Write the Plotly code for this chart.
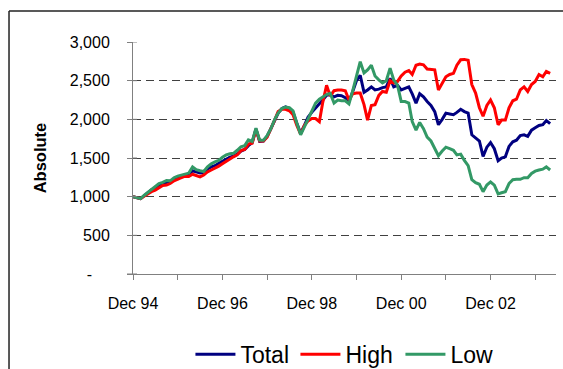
import pandas as pd
import plotly.graph_objects as go

# Monthly index levels, base Dec 1994 = 1,000
months = pd.date_range("1994-12-01", periods=113, freq="MS")

total = [
    1000, 985, 975, 1010, 1050, 1090, 1110, 1145, 1165, 1185, 1195, 1220,
    1245, 1260, 1270, 1280, 1335, 1320, 1305, 1310, 1360, 1385, 1400, 1430,
    1455, 1490, 1510, 1525, 1550, 1590, 1610, 1660, 1700, 1875, 1715, 1720,
    1780, 1880, 1990, 2080, 2140, 2160, 2140, 2090, 1950, 1820, 1920, 2030,
    2090, 2140, 2200, 2250, 2310, 2320, 2290, 2310, 2305, 2280, 2230, 2360,
    2500, 2570, 2350, 2380, 2420, 2380, 2390, 2410, 2420, 2530, 2420, 2440,
    2380, 2400, 2420, 2330, 2210, 2330, 2290, 2230, 2180, 2100, 1930, 2000,
    2080, 2070, 2060, 2090, 2130, 2100, 2080, 1800, 1760, 1720, 1520, 1640,
    1700, 1620, 1465, 1500, 1515, 1650, 1710, 1730, 1790, 1800, 1780, 1860,
    1890, 1920, 1930, 1985, 1945,
]

high = [
    1000, 985, 975, 1005, 1040, 1065, 1085, 1110, 1145, 1150, 1170, 1205,
    1230, 1245, 1265, 1260, 1290, 1270, 1255, 1280, 1320, 1345, 1365, 1395,
    1425, 1460, 1490, 1515, 1540, 1595, 1610, 1680, 1690, 1865, 1720, 1720,
    1770, 1870, 1990, 2100, 2130, 2130, 2110, 2060, 1920, 1810, 1920, 1980,
    2010, 2010, 1970, 2220, 2440, 2300, 2370, 2380, 2380, 2370, 2250, 2330,
    2340, 2340, 2190, 1990, 2180, 2190, 2310, 2360, 2350, 2500, 2470, 2490,
    2560, 2610, 2630, 2580, 2700, 2715, 2705, 2650, 2645, 2640, 2380, 2460,
    2550, 2580, 2595, 2700, 2770, 2775, 2765, 2450, 2340, 2150, 2040, 2180,
    2250, 2150, 1930, 1990, 1990, 2150, 2240, 2260, 2380, 2420, 2360, 2450,
    2490, 2580, 2550, 2620, 2595,
]

low = [
    1000, 985, 975, 1015, 1055, 1095, 1125, 1170, 1185, 1210, 1205, 1245,
    1265, 1280, 1295, 1305, 1385, 1350, 1335, 1325, 1385, 1425, 1450, 1470,
    1510, 1540, 1555, 1560, 1600, 1645, 1660, 1735, 1715, 1885, 1730, 1730,
    1790, 1880, 2000, 2080, 2140, 2160, 2150, 2110, 1950, 1800, 1900, 2000,
    2090, 2210, 2260, 2290, 2320, 2335, 2210, 2250, 2240, 2240, 2200, 2370,
    2560, 2745, 2600, 2640, 2700, 2560, 2510, 2470, 2500, 2660, 2510, 2440,
    2230, 2230, 2210, 1970, 1860, 1960, 1880, 1770, 1720, 1630, 1530, 1590,
    1640, 1620, 1600, 1540, 1550, 1470, 1400, 1220, 1180, 1160, 1065, 1150,
    1190, 1150, 1035, 1050, 1065, 1170, 1220, 1225, 1225, 1245, 1245, 1300,
    1330, 1345, 1355, 1385, 1345,
]

series_names = ["Total", "High", "Low"]
series_colors = ["#000080", "#FF0000", "#339966"]

# Axis ticks
y_tickvals = [0, 500, 1000, 1500, 2000, 2500, 3000]
y_ticktext = ["-\u00a0\u00a0\u00a0\u00a0", "500", "1,000", "1,500", "2,000", "2,500", "3,000"]
x_tickvals = pd.date_range("1994-12-01", periods=10, freq="12MS")
x_ticktext = ["Dec 94", "", "Dec 96", "", "Dec 98", "", "Dec 00", "", "Dec 02", ""]

FONT = "Arial, 'Liberation Sans', sans-serif"
AXIS_GREY = "#808080"

fig = go.Figure()
for name, vals, col in zip(series_names, [total, high, low], series_colors):
    fig.add_trace(go.Scatter(
        x=months, y=vals, name=name, mode="lines",
        line=dict(color=col, width=3),
    ))

fig.update_layout(
    width=563, height=369,
    margin=dict(l=133, r=7, t=42, b=95, autoexpand=False),
    paper_bgcolor="white", plot_bgcolor="white",
    font=dict(family=FONT, color="black", size=16),
    showlegend=True,
    legend=dict(
        orientation="h", xref="container", yref="container",
        x=0.618, xanchor="center", y=0.040, yanchor="middle",
        font=dict(size=23, family=FONT), itemwidth=40,
        entrywidth=50, entrywidthmode="pixels",
        bgcolor="rgba(0,0,0,0)",
    ),
    xaxis=dict(
        type="date", automargin=False,
        range=["1994-12-01", "2004-05-19"],
        tickmode="array", tickvals=x_tickvals, ticktext=x_ticktext,
        ticks="outside", ticklen=5, tickcolor=AXIS_GREY, tickwidth=1,
        showline=True, linecolor=AXIS_GREY, linewidth=1,
        showgrid=False, zeroline=False,
        tickfont=dict(size=16), ticklabelstandoff=10,
    ),
    yaxis=dict(
        range=[0, 3000], automargin=False,
        tickmode="array", tickvals=y_tickvals, ticktext=y_ticktext,
        ticks="outside", ticklen=5, tickcolor=AXIS_GREY, tickwidth=1,
        showline=True, linecolor=AXIS_GREY, linewidth=1,
        showgrid=True, gridcolor="#404040", gridwidth=1, griddash="8px,5px",
        zeroline=False,
        tickfont=dict(size=16), ticklabelstandoff=14,
        title=dict(text="<b>Absolute</b>", font=dict(size=16.5), standoff=18),
    ),
)

# Inner halves of the crossing y-axis tick marks
for v in y_tickvals:
    fig.add_shape(type="line", xref="paper", yref="y",
                  x0=0, x1=0.0095, y0=v, y1=v,
                  line=dict(color=AXIS_GREY, width=1))
# Category axis line runs slightly past the value axis
fig.add_shape(type="line", xref="paper", yref="y",
              x0=-0.0142, x1=0, y0=0, y1=0,
              line=dict(color=AXIS_GREY, width=1))

# Outer chart frame (left and top edges)
fig.add_shape(type="line", xref="paper", yref="paper",
              x0=-0.2931, y0=1.1336, x1=-0.2931, y1=-0.47,
              line=dict(color="#222222", width=1.5))
fig.add_shape(type="line", xref="paper", yref="paper",
              x0=-0.2931, y0=1.1336, x1=1.04, y1=1.1336,
              line=dict(color="#222222", width=1.5))

fig.write_html("out.html")
